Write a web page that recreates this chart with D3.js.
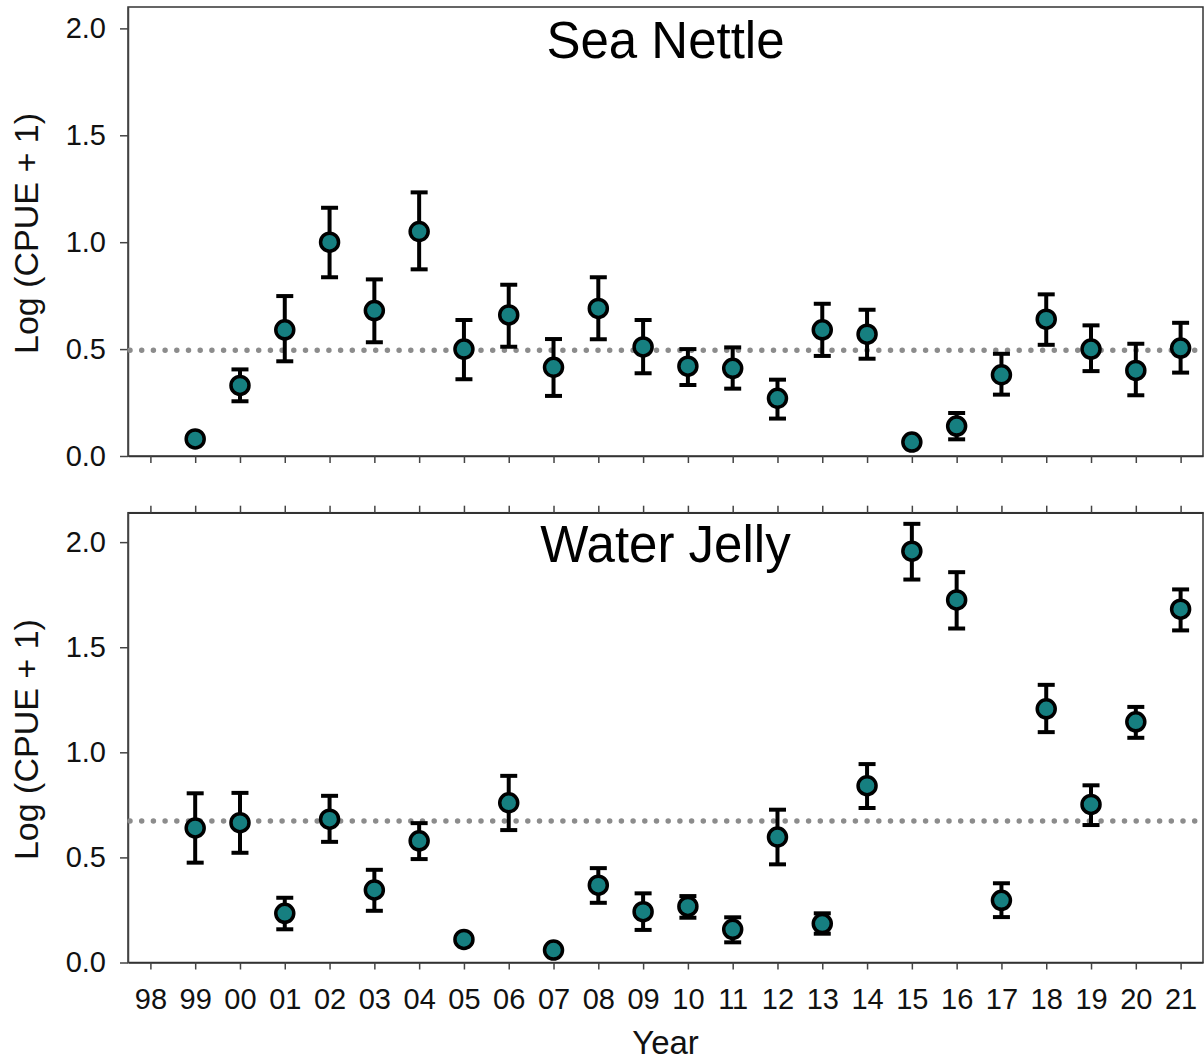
<!DOCTYPE html>
<html>
<head>
<meta charset="utf-8">
<script src="https://cdn.jsdelivr.net/npm/d3@7"></script>
<style>
  html, body { margin: 0; padding: 0; background: #fff; }
  svg { display: block; font-family: "Liberation Sans", Arial, sans-serif; }
</style>
</head>
<body>
<svg id="chart" width="1204" height="1062"></svg>
<script>
// Survey years (two-digit labels)
const years = ["98","99","00","01","02","03","04","05","06","07","08","09",
               "10","11","12","13","14","15","16","17","18","19","20","21"];
const yTicks = [0, 0.5, 1.0, 1.5, 2.0];

// Sea Nettle: annual mean log(CPUE + 1) with upper/lower error limits (no 1998 sample)
const seaNettleMean  = [null,0.08,0.33,0.59,1.00,0.68,1.05,0.50,0.66,0.415,0.69,0.51,
                        0.42,0.41,0.27,0.59,0.57,0.065,0.14,0.38,0.64,0.50,0.40,0.505];
const seaNettleUpper = [null,0.09,0.405,0.748,1.161,0.826,1.233,0.636,0.801,0.547,0.836,0.636,
                        0.50,0.508,0.357,0.712,0.684,0.075,0.201,0.478,0.756,0.611,0.525,0.623];
const seaNettleLower = [null,0.07,0.256,0.443,0.836,0.532,0.873,0.359,0.511,0.281,0.546,0.387,
                        0.332,0.315,0.175,0.468,0.455,0.055,0.078,0.287,0.52,0.397,0.284,0.39];
const seaNettleAvg = 0.495;

// Water Jelly: annual mean log(CPUE + 1) with upper/lower error limits
const waterJellyMean  = [null,0.64,0.665,0.234,0.682,0.345,0.579,0.11,0.76,0.059,0.368,0.242,
                         0.267,0.158,0.597,0.185,0.841,1.957,1.725,0.296,1.207,0.752,1.145,1.681];
const waterJellyUpper = [null,0.805,0.807,0.308,0.793,0.441,0.663,0.12,0.888,0.065,0.449,0.329,
                         0.316,0.215,0.727,0.234,0.944,2.087,1.857,0.377,1.321,0.843,1.216,1.775];
const waterJellyLower = [null,0.475,0.522,0.158,0.574,0.246,0.492,0.10,0.63,0.053,0.284,0.155,
                         0.213,0.096,0.467,0.137,0.735,1.822,1.589,0.216,1.096,0.654,1.069,1.58];
const waterJellyAvg = 0.673;

const svg = d3.select("#chart");
const left = 128, right = 1203;
const fill = "#167f80";
const font = "Liberation Sans, Arial, sans-serif";

const x = d3.scalePoint().domain(years).range([left, right]).padding(0.5);

const panels = [
  { title: "Sea Nettle", mean: seaNettleMean, upper: seaNettleUpper, lower: seaNettleLower,
    avg: seaNettleAvg, top: 7, bottom: 456, yMax: 2.1, topTicks: false, labels: false, titleY: 58 },
  { title: "Water Jelly", mean: waterJellyMean, upper: waterJellyUpper, lower: waterJellyLower,
    avg: waterJellyAvg, top: 512.7, bottom: 962.5, yMax: 2.14, topTicks: true, labels: true, titleY: 562 }
];

panels.forEach(p => {
  const y = d3.scaleLinear().domain([0, p.yMax]).range([p.bottom, p.top]);
  const g = svg.append("g");

  // plot frame
  g.append("rect")
    .attr("x", left).attr("y", p.top)
    .attr("width", right - left).attr("height", p.bottom - p.top)
    .attr("fill", "none").attr("stroke", "#333").attr("stroke-width", 1.5);

  // left axis
  const ya = g.append("g").attr("transform", `translate(${left},0)`)
    .call(d3.axisLeft(y).tickValues(yTicks).tickFormat(d3.format(".1f"))
      .tickSize(8).tickSizeOuter(0).tickPadding(14));
  ya.select(".domain").attr("stroke", "#444").attr("stroke-width", 1.5);
  ya.selectAll(".tick line").attr("stroke", "#444").attr("stroke-width", 1.5);
  ya.selectAll(".tick text").attr("font-size", 29).attr("fill", "#111").attr("font-family", font);

  // bottom axis
  const xa = g.append("g").attr("transform", `translate(0,${p.bottom})`)
    .call(d3.axisBottom(x).tickSize(7).tickSizeOuter(0).tickPadding(19));
  xa.select(".domain").attr("stroke", "#333").attr("stroke-width", 1.5);
  xa.selectAll(".tick line").attr("stroke", "#444").attr("stroke-width", 1.5);
  if (p.labels) {
    xa.selectAll(".tick text").attr("font-size", 29).attr("fill", "#111").attr("font-family", font);
  } else {
    xa.selectAll(".tick text").remove();
  }

  // top axis ticks
  if (p.topTicks) {
    const ta = g.append("g").attr("transform", `translate(0,${p.top})`)
      .call(d3.axisTop(x).tickSize(7).tickSizeOuter(0).tickFormat(""));
    ta.select(".domain").attr("stroke", "#333").attr("stroke-width", 1.5);
    ta.selectAll(".tick line").attr("stroke", "#444").attr("stroke-width", 1.5);
  }

  // long-term average reference line
  g.append("line")
    .attr("x1", left + 2).attr("x2", right - 2)
    .attr("y1", y(p.avg)).attr("y2", y(p.avg))
    .attr("stroke", "#8c8c8c").attr("stroke-width", 5.5)
    .attr("stroke-linecap", "round").attr("stroke-dasharray", "0 11.7");

  const pts = years.map((yr, i) => ({ yr, m: p.mean[i], hi: p.upper[i], lo: p.lower[i] }))
    .filter(d => d.m != null);

  // error bars
  const eb = g.append("g").attr("stroke", "#000").attr("stroke-width", 4).attr("fill", "none");
  pts.forEach(d => {
    const cx = x(d.yr);
    eb.append("line").attr("x1", cx).attr("x2", cx).attr("y1", y(d.hi)).attr("y2", y(d.lo));
    eb.append("line").attr("x1", cx - 8.5).attr("x2", cx + 8.5).attr("y1", y(d.hi)).attr("y2", y(d.hi));
    eb.append("line").attr("x1", cx - 8.5).attr("x2", cx + 8.5).attr("y1", y(d.lo)).attr("y2", y(d.lo));
  });

  // means
  g.append("g").selectAll("circle").data(pts).join("circle")
    .attr("cx", d => x(d.yr)).attr("cy", d => y(d.m)).attr("r", 9)
    .attr("fill", fill).attr("stroke", "#000").attr("stroke-width", 3.5);

  // panel title
  g.append("text")
    .attr("x", (left + right) / 2).attr("y", p.titleY)
    .attr("text-anchor", "middle").attr("font-size", 51).attr("fill", "#000")
    .text(p.title);

  // y-axis title
  g.append("text")
    .attr("transform", `translate(38,${(p.top + p.bottom) / 2 + 2}) rotate(-90)`)
    .attr("text-anchor", "middle").attr("font-size", 34).attr("fill", "#111")
    .text("Log (CPUE + 1)");
});

// x-axis title
svg.append("text")
  .attr("x", (left + right) / 2).attr("y", 1054)
  .attr("text-anchor", "middle").attr("font-size", 33).attr("fill", "#111")
  .text("Year");
</script>
</body>
</html>
